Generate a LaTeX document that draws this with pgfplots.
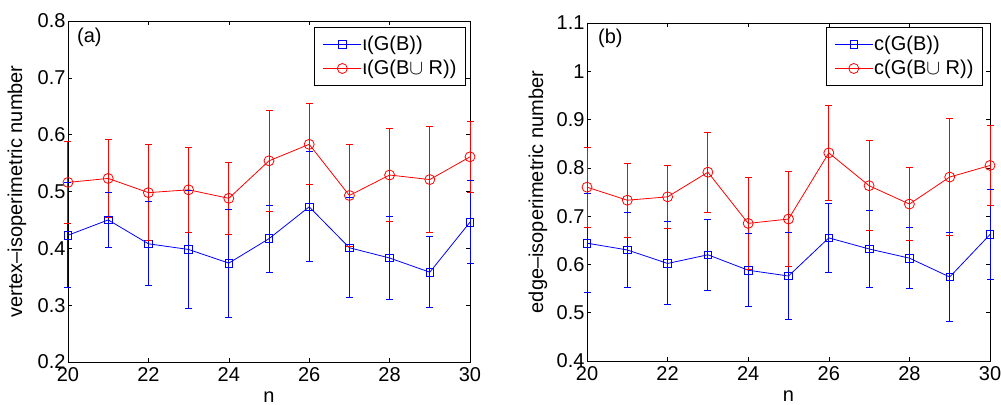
\documentclass[border=0pt]{standalone}
\usepackage{fontspec}
\setmainfont{Liberation Sans}
\usepackage{pgfplots}
\usepackage{pgfplotstable}
\pgfplotsset{compat=1.18}
\definecolor{mblue}{RGB}{0,0,255}
\definecolor{mred}{RGB}{255,0,0}
\pgfplotsset{
 mstyle/.style={
  scale only axis,
  font=\fontsize{20bp}{24bp}\selectfont,
  /pgf/number format/assume math mode=true,
  xmin=20,xmax=30,
  xtick={20,22,24,26,28,30},
  tick align=inside,
  major tick length=4bp,
  axis line style={line width=0.8bp},
  every tick/.style={line width=0.6bp},
  xlabel={n},
  xlabel style={at={(axis description cs:0.5,0)},anchor=center,yshift=-35bp},
  xticklabel style={anchor=north, yshift=-2bp},
  yticklabel style={/pgf/number format/fixed, /pgf/number format/precision=1, xshift=1bp},
  clip=false,
  unbounded coords=jump,
  legend cell align=left,
  legend style={draw=black, line width=1bp, anchor=north east,
    font=\fontsize{20bp}{24bp}\selectfont,
    inner xsep=8bp, inner ysep=8bp, row sep=6bp,
    nodes={inner sep=1bp},
    /tikz/every even column/.append style={column sep=4bp}},
  legend image code/.code={\draw[mark repeat=2,mark phase=2] plot coordinates {(0bp,0bp) (19bp,0bp) (38bp,0bp)};},
 },
 bl/.style={mblue, line width=0.8bp, mark=square, mark size=3.8bp, mark options={solid, line width=0.8bp}},
 rd/.style={mred, line width=0.8bp, mark=o, mark size=5bp, mark options={solid, line width=0.8bp}},
 ebar/.style={#1, line width=1bp, mark=none, forget plot},
 ecap/.style={#1, only marks, mark=-, mark size=3.5bp, mark options={solid, line width=1bp}, forget plot},
}
% data: n, mean
\pgfplotstableread{
x y
20 0.423
21 0.450
22 0.408
23 0.398
24 0.374
25 0.417
26 0.473
27 0.401
28 0.383
29 0.358
30 0.446
}\blueA
\pgfplotstableread{
x y
20 0.516
21 0.523
22 0.498
23 0.503
24 0.488
25 0.554
26 0.583
27 0.493
28 0.529
29 0.521
30 0.561
}\redA
\pgfplotstableread{
x y
20 0.644
21 0.630
22 0.602
23 0.620
24 0.588
25 0.576
26 0.655
27 0.632
28 0.613
29 0.574
30 0.662
}\blueB
\pgfplotstableread{
x y
20 0.760
21 0.733
22 0.740
23 0.791
24 0.685
25 0.694
26 0.831
27 0.763
28 0.725
29 0.781
30 0.805
}\redB
% error bar ends: low, high, break
\pgfplotstableread{
x v
20 0.331
20 0.515
20 nan
21 0.402
21 0.498
21 nan
22 0.334
22 0.482
22 nan
23 0.294
23 0.502
23 nan
24 0.279
24 0.469
24 nan
25 0.358
25 0.476
25 nan
26 0.376
26 0.570
26 nan
27 0.313
27 0.489
27 nan
28 0.310
28 0.456
28 nan
29 0.296
29 0.420
29 nan
30 0.373
30 0.519
}\eBA
\pgfplotstableread{
x v
20 0.444
20 0.588
20 nan
21 0.454
21 0.592
21 nan
22 0.414
22 0.582
22 nan
23 0.428
23 0.578
23 nan
24 0.425
24 0.551
24 nan
25 0.465
25 0.643
25 nan
26 0.512
26 0.654
26 nan
27 0.404
27 0.582
27 nan
28 0.448
28 0.610
28 nan
29 0.428
29 0.614
29 nan
30 0.498
30 0.624
}\eRA
\pgfplotstableread{
x v
20 0.542
20 0.746
20 nan
21 0.552
21 0.708
21 nan
22 0.516
22 0.688
22 nan
23 0.546
23 0.694
23 nan
24 0.512
24 0.664
24 nan
25 0.485
25 0.667
25 nan
26 0.583
26 0.727
26 nan
27 0.553
27 0.711
27 nan
28 0.550
28 0.676
28 nan
29 0.482
29 0.666
29 nan
30 0.568
30 0.756
}\eBB
\pgfplotstableread{
x v
20 0.677
20 0.843
20 nan
21 0.656
21 0.810
21 nan
22 0.675
22 0.805
22 nan
23 0.708
23 0.874
23 nan
24 0.589
24 0.781
24 nan
25 0.596
25 0.792
25 nan
26 0.732
26 0.930
26 nan
27 0.670
27 0.856
27 nan
28 0.650
28 0.800
28 nan
29 0.659
29 0.903
29 nan
30 0.722
30 0.888
}\eRB
\begin{document}
\begin{tikzpicture}
\path[use as bounding box] (-68bp,-43bp) rectangle (933bp,362bp);
\begin{axis}[mstyle, at={(0bp,0bp)}, anchor=south west,
  width=402bp, height=341bp,
  ymin=0.2, ymax=0.8, ytick={0.2,0.3,0.4,0.5,0.6,0.7,0.8},
  ylabel={vertex--isoperimetric number},
  ylabel style={at={([xshift=-51bp]axis description cs:0,0.5)}, anchor=center},
  legend style={at={(1,1)}, xshift=-4bp, yshift=-6bp}]
\addplot[ebar=mblue] table[x=x,y=v] {\eBA};
\addplot[ecap=mblue] table[x=x,y=v] {\eBA};
\addplot[bl] table[x=x,y=y] {\blueA};
\addlegendentry{ι(G(B))}
\addplot[ebar=mred] table[x=x,y=v] {\eRA};
\addplot[ecap=mred] table[x=x,y=v] {\eRA};
\addplot[rd] table[x=x,y=y] {\redA};
\addlegendentry{ι(G(B$\cup$ R))}
\node[anchor=north west, inner sep=0pt] at (axis description cs:0,1) [xshift=9bp, yshift=-7bp] {(a)};
\end{axis}
\begin{axis}[mstyle, at={(519bp,1bp)}, anchor=south west,
  width=403bp, height=338bp,
  ymin=0.4, ymax=1.1, ytick={0.4,0.5,0.6,0.7,0.8,0.9,1.0,1.1},
  ylabel={edge--isoperimetric number},
  ylabel style={at={([xshift=-49bp]axis description cs:0,0.5)}, anchor=center},
  legend style={at={(1,1)}, xshift=-7bp, yshift=-4bp}]
\addplot[ebar=mblue] table[x=x,y=v] {\eBB};
\addplot[ecap=mblue] table[x=x,y=v] {\eBB};
\addplot[bl] table[x=x,y=y] {\blueB};
\addlegendentry{c(G(B))}
\addplot[ebar=mred] table[x=x,y=v] {\eRB};
\addplot[ecap=mred] table[x=x,y=v] {\eRB};
\addplot[rd] table[x=x,y=y] {\redB};
\addlegendentry{c(G(B$\cup$ R))}
\node[anchor=north west, inner sep=0pt] at (axis description cs:0,1) [xshift=11bp, yshift=-6bp] {(b)};
\end{axis}
\end{tikzpicture}
\end{document}
